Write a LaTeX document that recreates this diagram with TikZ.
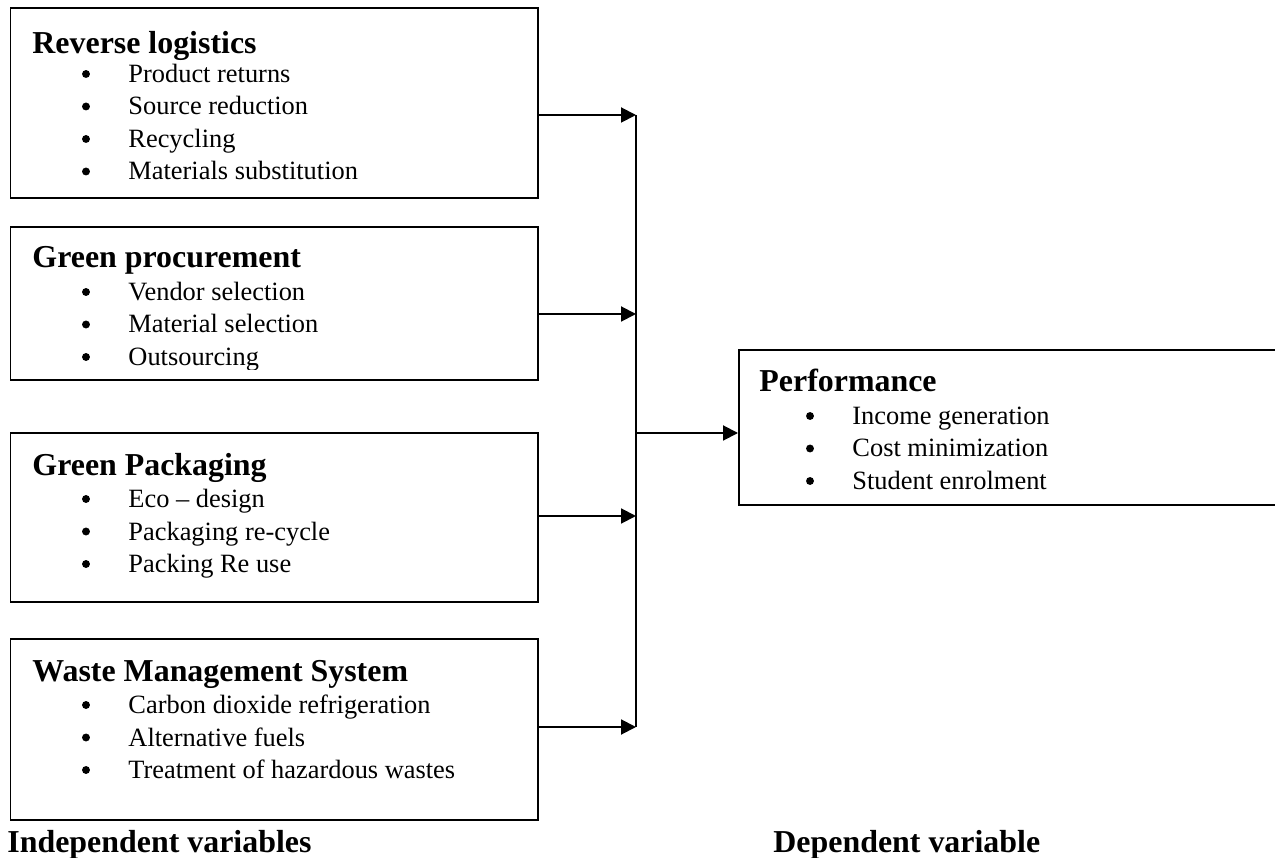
\documentclass[tikz,border=0pt]{standalone}
\usepackage{fontspec}
\setmainfont{Liberation Serif}
\usetikzlibrary{arrows.meta}
\begin{document}
\begin{tikzpicture}[x=0.4545pt,y=-0.4545pt,
  box/.style={draw, line width=0.9pt, inner sep=0pt, rectangle},
  ttl/.style={anchor=base west, inner sep=0pt, font=\fontsize{14.5}{17}\selectfont\bfseries},
  itm/.style={anchor=base west, inner sep=0pt, font=\fontsize{12}{14}\selectfont},
  bul/.style={circle, fill, inner sep=0pt, minimum size=3.6pt},
  arr/.style={line width=0.9pt, -{Triangle[length=6.8pt,width=6.8pt]}},
  bus/.style={line width=0.75pt}]
\useasboundingbox (0,0) rectangle (1275,858);

% boxes
\node[box, minimum width=527.5*0.4545pt, minimum height=190*0.4545pt] (b1) at (274.25,103) {};
\node[box, minimum width=527.5*0.4545pt, minimum height=153*0.4545pt] (b2) at (274.25,303.5) {};
\node[box, minimum width=527.5*0.4545pt, minimum height=169*0.4545pt] (b3) at (274.25,517.5) {};
\node[box, minimum width=527.5*0.4545pt, minimum height=181*0.4545pt] (b4) at (274.25,729.5) {};
\node[box, minimum width=560*0.4545pt, minimum height=155*0.4545pt] (b5) at (1019,427.5) {};

% box 1
\node[ttl] (t1) at (32,54) {Reverse logistics};
\foreach \t [count=\k] in {Product returns, Source reduction, Recycling, Materials substitution}{
  \node[bul] (b1d\k) at (86,50+32.5*\k-8.5) {};
  \node[itm] (b1i\k) at (128,50+32.5*\k) {\t};
}
% box 2
\node[ttl] (t2) at (32,268) {Green procurement};
\foreach \t [count=\k] in {Vendor selection, Material selection}{
  \node[bul] (b2d\k) at (86,268+32.5*\k-8.5) {};
  \node[itm] (b2i\k) at (128,268+32.5*\k) {\t};
}
\node[bul] (b2d3) at (86,357) {};
\begin{scope}
  \clip (100,330) rectangle (400,370);
  \node[itm] (b2i3) at (128,365.5) {Outsourcing};
\end{scope}
% box 3
\node[ttl] (t3) at (32,475) {Green Packaging};
\foreach \t [count=\k] in {Eco -- design, Packaging re-cycle, Packing Re use}{
  \node[bul] (b3d\k) at (86,475+32.5*\k-8.5) {};
  \node[itm] (b3i\k) at (128,475+32.5*\k) {\t};
}
% box 4
\node[ttl] (t4) at (32,681) {Waste Management System};
\foreach \t [count=\k] in {Carbon dioxide refrigeration, Alternative fuels, Treatment of hazardous wastes}{
  \node[bul] (b4d\k) at (86,681+32.5*\k-8.5) {};
  \node[itm] (b4i\k) at (128,681+32.5*\k) {\t};
}
% box 5
\node[ttl] (t5) at (759,392) {Performance};
\foreach \t [count=\k] in {Income generation, Cost minimization, Student enrolment}{
  \node[bul] (b5d\k) at (810,392+32.5*\k-8.5) {};
  \node[itm] (b5i\k) at (852,392+32.5*\k) {\t};
}

% labels
\node[ttl] (lind) at (7,852) {Independent variables};
\node[ttl] (ldep) at (773,852) {Dependent variable};

% connectors
\coordinate (j1) at (636,115);
\coordinate (j2) at (636,314);
\coordinate (j3) at (636,516);
\coordinate (j4) at (636,727);
\coordinate (jm) at (636,433);
\draw[arr] (b1.east |- j1) -- (j1);
\draw[arr] (b2.east |- j2) -- (j2);
\draw[arr] (b3.east |- j3) -- (j3);
\draw[arr] (b4.east |- j4) -- (j4);
\draw[bus] (j1) -- (j4);
\draw[arr] (jm) -- (b5.west |- jm);
\end{tikzpicture}
\end{document}
